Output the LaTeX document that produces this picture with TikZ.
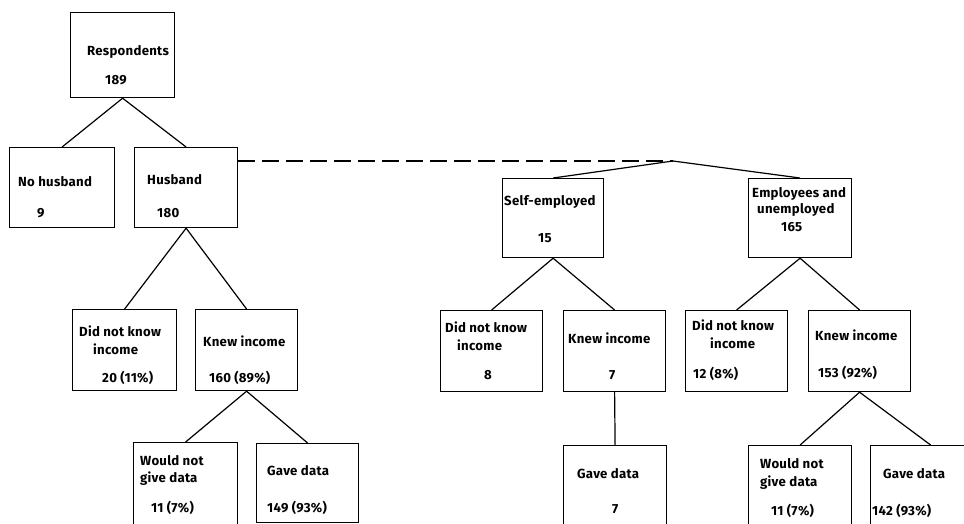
\documentclass[tikz,border=0pt]{standalone}
\usepackage{fontspec}
\setmainfont{Fira Sans}[LetterSpace=2]
\begin{document}
\begin{tikzpicture}[x=1pt,y=-1pt,
  box/.style={draw, line width=1.2pt, inner sep=0pt, anchor=north west},
  conn/.style={line width=1.2pt},
  lbl/.style={anchor=base west, inner sep=0pt, font=\fontsize{13.2}{15}\selectfont\bfseries}]
\useasboundingbox (0,0) rectangle (964,523);
% boxes
\node[box, minimum width=104pt, minimum height=85pt] (resp) at (70,12) {};
\node[box, minimum width=105pt, minimum height=80pt] (nohus) at (9,147) {};
\node[box, minimum width=103pt, minimum height=80pt] (hus) at (134,147) {};
\node[box, minimum width=104pt, minimum height=81pt] (dnkL) at (72,309) {};
\node[box, minimum width=102pt, minimum height=81pt] (kiL) at (195,309) {};
\node[box, minimum width=104pt, minimum height=90pt] (wnL) at (133,442) {};
\node[box, minimum width=102pt, minimum height=79pt] (gdL) at (256,443) {};
\node[box, minimum width=101pt, minimum height=79pt] (self) at (502,178) {};
\node[box, minimum width=103pt, minimum height=79pt] (emp) at (748,178) {};
\node[box, minimum width=102pt, minimum height=81pt] (dnkM) at (440,310) {};
\node[box, minimum width=102pt, minimum height=81pt] (kiM) at (563,310) {};
\node[box, minimum width=103pt, minimum height=90pt] (gdM) at (563,445) {};
\node[box, minimum width=102pt, minimum height=81pt] (dnkR) at (685,310) {};
\node[box, minimum width=102pt, minimum height=81pt] (kiR) at (808,310) {};
\node[box, minimum width=103pt, minimum height=90pt] (wnR) at (748,445) {};
\node[box, minimum width=120pt, minimum height=90pt] (gdR) at (870,445) {};
\coordinate (apex) at (673,161);
% connectors
\draw[conn] (resp.south) -- (nohus.north);
\draw[conn] (resp.south) -- (hus.north);
\draw[conn] (hus.south) -- (dnkL.north);
\draw[conn] (hus.south) -- (kiL.north);
\draw[conn] (kiL.south) -- (wnL.north);
\draw[conn] (kiL.south) -- (gdL.north);
\draw[conn, dash pattern=on 17pt off 7pt] (hus.east |- apex) -- (apex);
\draw[conn] (apex) -- (self.north);
\draw[conn] (apex) -- (emp.north);
\draw[conn] (self.south) -- (dnkM.north);
\draw[conn] (self.south) -- (kiM.north);
\draw[conn] (kiM.south) -- (gdM.north);
\draw[conn] (emp.south) -- (dnkR.north);
\draw[conn] (emp.south) -- (kiR.north);
\draw[conn] (kiR.south) -- (wnR.north);
\draw[conn] (kiR.south) -- (gdR.north);
% labels
\node[lbl] (t1) at (87,55) {Respondents};
\node[lbl] (t2) at (105,84) {189};
\node[lbl] (t3) at (18,186) {No husband};
\node[lbl] (t4) at (37,217) {9};
\node[lbl] (t5) at (147,184) {Husband};
\node[lbl] (t6) at (157,217) {180};
\node[lbl] (t7) at (79,336) {Did not know};
\node[lbl] (t8) at (93,354) {income};
\node[lbl] (t9) at (102,382) {20 (11\%)};
\node[lbl] (t10) at (203,346) {Knew income};
\node[lbl] (t11) at (209,382) {160 (89\%)};
\node[lbl] (t12) at (140,465) {Would not};
\node[lbl] (t13) at (140,482) {give data};
\node[lbl] (t14) at (151,512) {11 (7\%)};
\node[lbl] (t15) at (267,475) {Gave data};
\node[lbl] (t16) at (267,512) {149 (93\%)};
\node[lbl] (t17) at (504,205) {Self-employed};
\node[lbl] (t18) at (538,242) {15};
\node[lbl] (t19) at (752,197) {Employees and};
\node[lbl] (t20) at (757,213) {unemployed};
\node[lbl] (t21) at (781,231) {165};
\node[lbl] (t22) at (445,332) {Did not know};
\node[lbl] (t23) at (457,350) {income};
\node[lbl] (t24) at (484,379) {8};
\node[lbl] (t25) at (568,343) {Knew income};
\node[lbl] (t26) at (609,379) {7};
\node[lbl] (t27) at (577,478) {Gave data};
\node[lbl] (t28) at (612,513) {7};
\node[lbl] (t29) at (692,330) {Did not know};
\node[lbl] (t30) at (710,348) {income};
\node[lbl] (t31) at (693,378) {12 (8\%)};
\node[lbl] (t32) at (815,340) {Knew income};
\node[lbl] (t33) at (818,377) {153 (92\%)};
\node[lbl] (t34) at (760,468) {Would not};
\node[lbl] (t35) at (760,486) {give data};
\node[lbl] (t36) at (771,515) {11 (7\%)};
\node[lbl] (t37) at (883,478) {Gave data};
\node[lbl] (t38) at (872,515) {142 (93\%)};
\end{tikzpicture}
\end{document}
